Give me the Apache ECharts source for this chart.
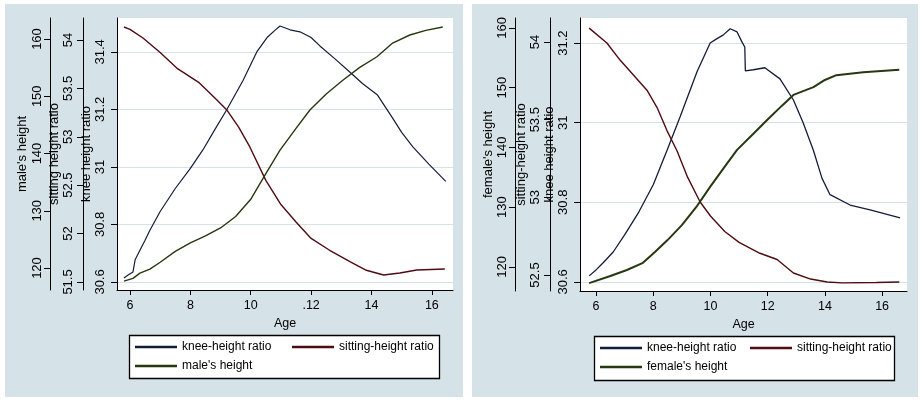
<!DOCTYPE html>
<html>
<head>
<meta charset="utf-8">
<script src="https://cdn.jsdelivr.net/npm/echarts@6/dist/echarts.min.js"></script>
<style>html,body{margin:0;padding:0;background:#fff}#c{width:924px;height:403px}</style>
</head>
<body>
<div id="c"></div>
<script>
// ---------- data ----------
const ageTicks = [6, 8, 10, 12, 14, 16];

// Left panel (males)
const maleKneeAge = [5.8, 5.95, 6.1, 6.17, 6.33, 6.5, 6.66, 7.0, 7.5, 8.0, 8.42, 8.8, 9.2, 9.74, 10.2, 10.54, 10.8, 10.97, 11.3, 11.63, 12.0, 12.3, 12.8, 13.28, 13.7, 14.2, 14.7, 15.0, 15.37, 15.9, 16.46];
const maleKnee = [30.614, 30.625, 30.635, 30.677, 30.71, 30.745, 30.78, 30.845, 30.925, 30.995, 31.06, 31.128, 31.198, 31.30, 31.40, 31.45, 31.475, 31.49, 31.477, 31.47, 31.45, 31.42, 31.375, 31.33, 31.29, 31.25, 31.17, 31.12, 31.07, 31.01, 30.95];
const maleSitAge = [5.8, 6.0, 6.43, 7.0, 7.55, 8.3, 8.88, 9.2, 9.6, 9.97, 10.5, 11.0, 11.5, 12.0, 12.6, 13.3, 13.8, 14.4, 14.94, 15.5, 16.43];
const maleSit = [54.134, 54.11, 54.02, 53.87, 53.71, 53.556, 53.38, 53.28, 53.10, 52.895, 52.55, 52.3, 52.12, 51.95, 51.83, 51.707, 51.624, 51.572, 51.593, 51.624, 51.634];
const maleHtAge = [5.8, 6.1, 6.33, 6.66, 7.0, 7.5, 8.0, 8.5, 9.0, 9.5, 10.0, 10.5, 10.97, 11.5, 11.96, 12.5, 13.05, 13.6, 14.18, 14.7, 15.27, 15.8, 16.36];
const maleHt = [117.7, 118.2, 119.1, 119.8, 121.0, 122.9, 124.4, 125.6, 127.0, 129.0, 132.0, 136.5, 140.6, 144.4, 147.6, 150.4, 152.8, 155.0, 156.9, 159.3, 160.7, 161.5, 162.1];

// Right panel (females)
const femKneeAge = [5.76, 6.0, 6.25, 6.6, 7.0, 7.5, 8.0, 8.48, 8.94, 9.53, 9.99, 10.2, 10.44, 10.69, 10.93, 11.1, 11.2, 11.22, 11.5, 11.9, 12.43, 12.9, 13.24, 13.6, 13.9, 14.18, 14.88, 15.58, 16.63];
const femKnee = [30.615, 30.63, 30.648, 30.675, 30.718, 30.776, 30.844, 30.93, 31.015, 31.128, 31.20, 31.21, 31.22, 31.236, 31.228, 31.203, 31.19, 31.13, 31.133, 31.138, 31.11, 31.057, 31.0, 30.93, 30.86, 30.819, 30.793, 30.781, 30.761];
const femSitAge = [5.76, 6.38, 6.84, 7.3, 7.78, 8.13, 8.48, 8.83, 9.2, 9.64, 10.0, 10.5, 11.0, 11.73, 12.33, 12.9, 13.5, 14.08, 14.6, 15.8, 16.6];
const femSit = [54.09, 53.994, 53.884, 53.79, 53.69, 53.58, 53.43, 53.30, 53.13, 52.97, 52.88, 52.78, 52.71, 52.64, 52.6, 52.513, 52.474, 52.455, 52.449, 52.452, 52.455];
const femHtAge = [5.76, 6.5, 7.08, 7.64, 8.06, 8.5, 9.0, 9.5, 10.0, 10.5, 10.93, 11.5, 11.98, 12.5, 12.9, 13.6, 14.0, 14.4, 15.34, 16.6];
const femHt = [117.3, 118.5, 119.5, 120.7, 122.5, 124.5, 127.0, 130.0, 133.5, 136.8, 139.6, 142.3, 144.6, 147.0, 148.8, 150.1, 151.3, 152.1, 152.6, 153.0];

// tick labels
const maleHtTicks = [120, 130, 140, 150, 160];
const maleSitTicks = [51.5, 52, 52.5, 53, 53.5, 54];
const maleKneeTicks = [30.6, 30.8, 31, 31.2, 31.4];
const femHtTicks = [120, 130, 140, 150, 160];
const femSitTicks = [52.5, 53, 53.5, 54];
const femKneeTicks = [30.6, 30.8, 31, 31.2];

// ---------- styling ----------
const FONT = 'Liberation Sans, Arial, sans-serif';
const C_KNEE = '#141c3c', C_SIT = '#4f0c12', C_HT = '#26380f';
const PANEL = '#d5e2e7';
const zip = (a, b) => a.map((x, i) => [x, b[i]]);

function yAxis(gi, offset, min, max, ticks, name, nameGap, margin, grid) {
  return {
    type: 'value', gridIndex: gi, position: 'left', offset: offset, min: min, max: max,
    name: name, nameLocation: 'middle', nameRotate: 90, nameGap: nameGap,
    nameTextStyle: {color: '#000', fontSize: 13, fontFamily: FONT},
    axisLine: {show: true, onZero: false, lineStyle: {color: '#000', width: 1}},
    axisTick: {show: true, length: 6, inside: false, customValues: ticks, lineStyle: {color: '#000'}},
    axisLabel: {show: true, rotate: 90, margin: margin, customValues: ticks, color: '#000', fontSize: 13, fontFamily: FONT},
    splitLine: {show: grid, lineStyle: {color: PANEL, width: 1}}
  };
}
function xAxis(gi, min, max, fmt) {
  return {
    type: 'value', gridIndex: gi, min: min, max: max,
    name: 'Age', nameLocation: 'middle', nameGap: 22,
    nameTextStyle: {color: '#000', fontSize: 12.5, fontFamily: FONT},
    axisLine: {show: true, onZero: false, lineStyle: {color: '#000', width: 1}},
    axisTick: {show: true, length: 5, customValues: ageTicks, lineStyle: {color: '#000'}},
    axisLabel: {customValues: ageTicks, margin: 9, color: '#000', fontSize: 12.5, fontFamily: FONT, formatter: fmt},
    splitLine: {show: false}
  };
}
function line(name, xi, yi, data, color, w) {
  return {name: name, type: 'line', xAxisIndex: xi, yAxisIndex: yi, data: data, color: color,
    symbol: 'none', showSymbol: false, smooth: false, lineStyle: {color: color, width: w}, z: 3, silent: true};
}
function leg(name, left, top) {
  return {data: [name], left: left, top: top, padding: 0, icon: 'rect', itemWidth: 42, itemHeight: 2.5,
    textStyle: {color: '#000', fontSize: 12, fontFamily: FONT}, selectedMode: false};
}

const option = {
  animation: false,
  textStyle: {fontFamily: FONT},
  graphic: [
    {type: 'rect', z: -10, shape: {x: 5, y: 4, width: 458, height: 393}, style: {fill: PANEL}},
    {type: 'rect', z: -10, shape: {x: 472, y: 4, width: 446, height: 393}, style: {fill: PANEL}},
    {type: 'rect', z: -9, shape: {x: 117, y: 18, width: 336, height: 272}, style: {fill: '#fff'}},
    {type: 'rect', z: -9, shape: {x: 580, y: 18, width: 327, height: 273}, style: {fill: '#fff'}},
    {type: 'rect', z: -9, shape: {x: 129.5, y: 335.5, width: 310, height: 43}, style: {fill: '#fff', stroke: '#000', lineWidth: 1.3}},
    {type: 'rect', z: -9, shape: {x: 594.5, y: 336.5, width: 300, height: 44}, style: {fill: '#fff', stroke: '#000', lineWidth: 1.3}}
  ],
  grid: [
    {left: 117, top: 18, width: 336, height: 272},
    {left: 580, top: 18, width: 327, height: 273}
  ],
  xAxis: [
    xAxis(0, 5.57, 16.7, v => (v === 12 ? '.12' : String(v))),
    xAxis(1, 5.44, 16.87, v => String(v))
  ],
  yAxis: [
    yAxis(0, 0, 30.572, 31.518, maleKneeTicks, 'knee height ratio', 22, 10, true),
    yAxis(0, 34, 51.417, 54.227, maleSitTicks, 'sitting height ratio', 21, 8, false),
    yAxis(0, 67, 116.16, 163.67, maleHtTicks, "male's height", 21, 6, false),
    yAxis(1, 0, 30.577, 31.263, femKneeTicks, 'knee height ratio', 15, 10, true),
    yAxis(1, 30, 52.397, 54.155, femSitTicks, 'sitting-height ratio', 13, 8, false),
    yAxis(1, 65, 115.98, 161.67, femHtTicks, "female's height", 20, 6, false)
  ],
  legend: [
    leg('knee-height ratio', 135, 341),
    leg('sitting-height ratio', 292, 341),
    leg("male's height", 135, 360),
    leg('knee-height ratio', 600, 342),
    leg('sitting-height ratio', 750, 342),
    leg("female's height", 600, 361)
  ],
  series: [
    line('knee-height ratio', 0, 0, zip(maleKneeAge, maleKnee), C_KNEE, 1.2),
    line('sitting-height ratio', 0, 1, zip(maleSitAge, maleSit), C_SIT, 1.4),
    line("male's height", 0, 2, zip(maleHtAge, maleHt), C_HT, 1.4),
    line('knee-height ratio', 1, 3, zip(femKneeAge, femKnee), C_KNEE, 1.3),
    line('sitting-height ratio', 1, 4, zip(femSitAge, femSit), C_SIT, 1.4),
    line("female's height", 1, 5, zip(femHtAge, femHt), C_HT, 2)
  ]
};
const chart = echarts.init(document.getElementById('c'), null, {renderer: 'canvas'});
chart.setOption(option);
</script>
</body>
</html>
